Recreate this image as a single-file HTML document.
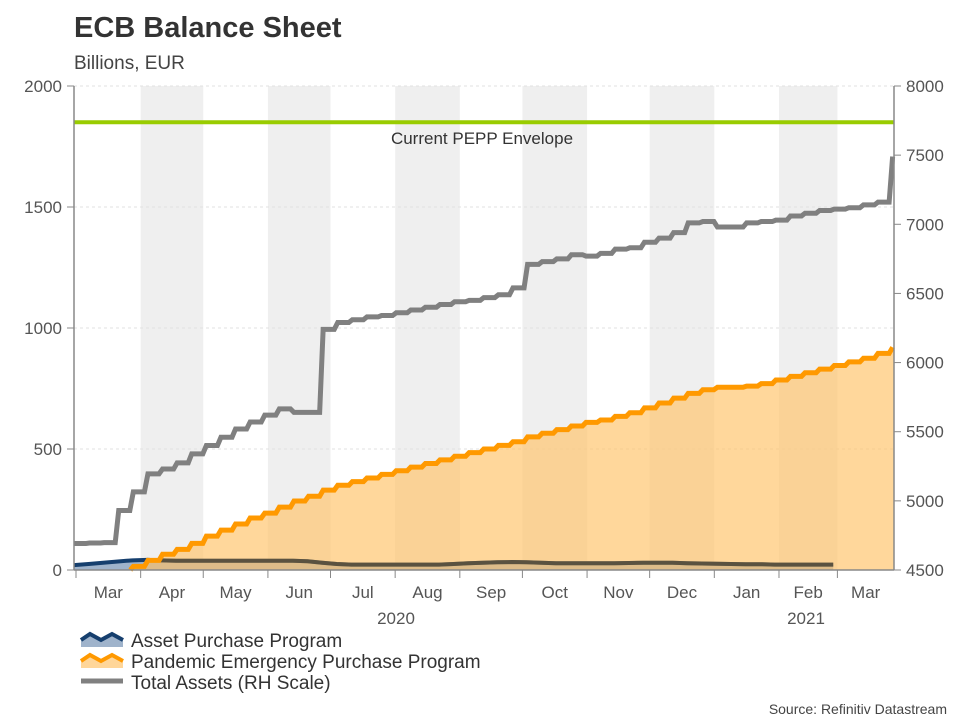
<!DOCTYPE html>
<html><head><meta charset="utf-8"><style>
body{margin:0;background:#fff;width:960px;height:720px;overflow:hidden;font-family:"Liberation Sans",sans-serif}
svg text{font-family:"Liberation Sans",sans-serif}
</style></head><body>
<svg id="c" width="960" height="720">
<text x="74" y="37" font-size="29" font-weight="bold" fill="#333">ECB Balance Sheet</text>
<text x="74" y="69" font-size="19" fill="#444">Billions, EUR</text>
<g id="bands"></g><g id="grid"></g><g id="series"></g><g id="axes"></g>
<g>
<g><path d="M81 640 L90 634 L101 640 L112 634 L123 640 L123 647 L81 647Z" fill="#9fb3cb"/><path d="M81 640 L90 634 L101 640 L112 634 L123 640" stroke="#163f6e" stroke-width="4" fill="none"/><text x="131" y="647" font-size="19" fill="#333">Asset Purchase Program</text></g>
<g><path d="M81 661 L90 655 L101 661 L112 655 L123 661 L123 668 L81 668Z" fill="#ffd699"/><path d="M81 661 L90 655 L101 661 L112 655 L123 661" stroke="#ff9900" stroke-width="4" fill="none"/><text x="131" y="668" font-size="19" fill="#333">Pandemic Emergency Purchase Program</text></g>
<g><line x1="81" y1="681" x2="123" y2="681" stroke="#808080" stroke-width="5"/><text x="131" y="689" font-size="19" fill="#333">Total Assets (RH Scale)</text></g>
</g>
<text x="947" y="714" font-size="14" fill="#444" text-anchor="end">Source: Refinitiv Datastream</text>
</svg>
<script>
const totalAssets=[4692,4695,4698,4930,5065,5195,5230,5275,5340,5400,5460,5520,5570,5620,5665,5640,5640,6240,6290,6310,6330,6340,6360,6380,6400,6420,6440,6450,6470,6490,6540,6710,6730,6750,6780,6770,6790,6820,6830,6870,6900,6940,7010,7020,6980,6980,7010,7020,7030,7060,7080,7100,7110,7120,7140,7160,7490];
const pepp=[null,null,null,null,15,40,65,85,110,140,165,190,215,235,260,285,305,330,350,365,380,395,410,425,440,455,470,485,500,515,530,550,565,580,595,610,620,635,650,670,690,710,730,745,755,755,760,770,785,800,815,830,845,860,875,895,920];
const app=[20,25,30,35,40,42,40,38,38,38,38,38,38,38,38,38,36,30,25,22,22,22,22,22,22,22,25,28,30,32,33,32,30,28,28,28,28,28,29,30,30,30,28,27,26,25,24,24,22,22,22,22,22];
const leftTicks=[0,500,1000,1500,2000];
const rightTicks=[4500,5000,5500,6000,6500,7000,7500,8000];
const monthLabels=["Mar","Apr","May","Jun","Jul","Aug","Sep","Oct","Nov","Dec","Jan","Feb","Mar"];
const monthStarts=[0,31,61,92,122,153,184,214,245,275,306,337,365,396];
const envelope=1850;
const X0=74,X1=894,Y0=570,Y1=86;
const xDay=d=>76+d*2.086;
const xW=i=>xDay(-1+7*i);
const yL=v=>Y0-(v/2000)*(Y0-Y1);
const yR=v=>Y0-((v-4500)/3500)*(Y0-Y1);
const NS="http://www.w3.org/2000/svg";
function mk(p,t,a){const e=document.createElementNS(NS,t);for(const k in a)e.setAttribute(k,a[k]);p.appendChild(e);return e;}
const bands=document.getElementById('bands'),grid=document.getElementById('grid'),ser=document.getElementById('series'),ax=document.getElementById('axes');
for(let m=1;m<12;m+=2){const r=mk(bands,'rect',{x:xDay(monthStarts[m]),y:Y1,width:xDay(monthStarts[m+1])-xDay(monthStarts[m]),height:Y0-Y1,fill:'#efefef'});

}
leftTicks.forEach(v=>{if(v>0){const l=mk(grid,'line',{x1:X0,x2:X1,y1:yL(v),y2:yL(v),stroke:'#e2e2e2','stroke-dasharray':'3,3'});

}});
function stepPath(arr,xf,yf){let d='',prev=null;arr.forEach((v,i)=>{if(v==null)return;const x=xf(i),y=yf(v);if(prev==null)d+='M'+x+' '+y;else d+=' L'+(x-2.5)+' '+prev+' L'+(x+1)+' '+y;prev=y;});return d;}
function firstIdx(a){return a.findIndex(v=>v!=null);}
function smoothLine(a,from){let d='';for(let i=from;i<a.length;i++){d+=(i>from?' L':'M')+xW(i)+' '+yL(a[i]);}return d;}
// APP
const appLine=smoothLine(app,0);
const appArea=mk(ser,'path',{d:appLine+' L'+xW(app.length-1)+' '+Y0+' L'+xW(0)+' '+Y0+'Z',fill:'#9fb3cb'});


const appL=mk(ser,'path',{d:appLine,stroke:'#163f6e','stroke-width':4,fill:'none'});


// PEPP
const pd=stepPath(pepp,xW,yL);const fi=firstIdx(pepp);
const sx=xW(fi)-2;
const pStart='M'+sx+' '+yL(0)+' L'+(sx+3)+' '+yL(pepp[fi])+pd.replace(/^M[^L]*/,' ');
const pArea=mk(ser,'path',{d:pStart+' L'+X1+' '+yL(pepp[pepp.length-1])+' L'+X1+' '+Y0+' L'+sx+' '+Y0+'Z',fill:'#ffc266','fill-opacity':0.65});


const appOver=mk(ser,'path',{d:smoothLine(app,5),stroke:'#5a5240','stroke-width':4,fill:'none'});


const pL=mk(ser,'path',{d:pStart,stroke:'#ff9900','stroke-width':5,fill:'none'});


// Total
const tL=mk(ser,'path',{d:stepPath(totalAssets,xW,yR),stroke:'#808080','stroke-width':5,fill:'none'});


// envelope
const env=mk(ser,'line',{x1:X0,x2:X1,y1:yL(envelope),y2:yL(envelope),stroke:'#99cc00','stroke-width':4});


const et=mk(ser,'text',{x:482,y:144,'font-size':17,fill:'#333','text-anchor':'middle'});et.textContent='Current PEPP Envelope';


// axes
mk(ax,'line',{x1:X0,x2:X0,y1:Y1,y2:Y0,stroke:'#888','stroke-width':1.5});
mk(ax,'line',{x1:X1,x2:X1,y1:Y1,y2:Y0,stroke:'#888','stroke-width':1.5});
mk(ax,'line',{x1:X0,x2:X1,y1:Y0,y2:Y0,stroke:'#888','stroke-width':1.5});
leftTicks.forEach(v=>{mk(ax,'line',{x1:X0-7,x2:X0,y1:yL(v),y2:yL(v),stroke:'#888'});const t=mk(ax,'text',{x:X0-12,y:yL(v)+6,'font-size':17,fill:'#555','text-anchor':'end'});t.textContent=v;

});
rightTicks.forEach(v=>{mk(ax,'line',{x1:X1,x2:X1+7,y1:yR(v),y2:yR(v),stroke:'#888'});const t=mk(ax,'text',{x:X1+12,y:yR(v)+6,'font-size':17,fill:'#555'});t.textContent=v;

});
monthLabels.forEach((m,i)=>{const a=xDay(monthStarts[i]),b=Math.min(xDay(monthStarts[i+1]),X1);mk(ax,'line',{x1:a,x2:a,y1:Y0,y2:Y0+8,stroke:'#888'});
const t=mk(ax,'text',{x:(a+b)/2,y:598,'font-size':17,fill:'#555','text-anchor':'middle'});t.textContent=m;

});
[["2020",396],["2021",806]].forEach(([s,x])=>{const t=mk(ax,'text',{x:x,y:624,'font-size':17,fill:'#555','text-anchor':'middle'});t.textContent=s;

});
</script>
</body></html>
